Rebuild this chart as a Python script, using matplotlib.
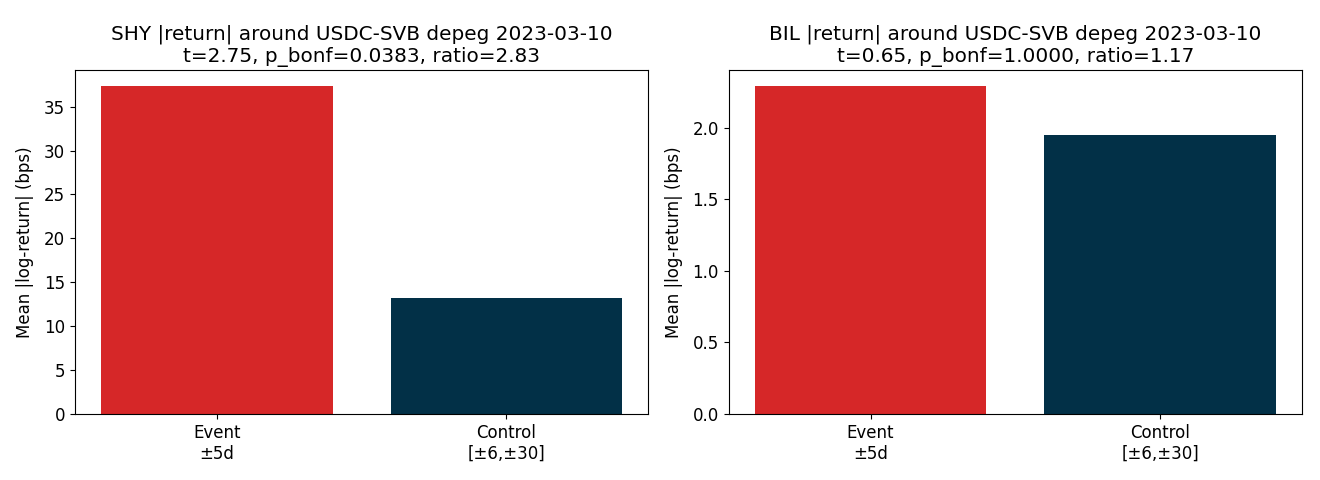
import matplotlib
matplotlib.use("Agg")
import matplotlib.pyplot as plt

plt.rcParams["font.size"] = 12

categories = ["Event\n±5d", "Control\n[±6,±30]"]
shy_values = [37.3, 13.18]
bil_values = [2.29, 1.95]
titles = [
    "SHY |return| around USDC-SVB depeg 2023-03-10\nt=2.75, p_bonf=0.0383, ratio=2.83",
    "BIL |return| around USDC-SVB depeg 2023-03-10\nt=0.65, p_bonf=1.0000, ratio=1.17",
]
colors = ["#d62728", "#023047"]

fig, axes = plt.subplots(1, 2, figsize=(13.2, 4.8), dpi=100)
fig.subplots_adjust(left=0.0568, right=0.9864, bottom=0.1375, top=0.854, wspace=0.14)

for ax, vals, title in zip(axes, [shy_values, bil_values], titles):
    ax.bar(range(len(categories)), vals, color=colors, width=0.8)
    ax.set_xticks(range(len(categories)))
    ax.set_xticklabels(categories)
    ax.set_ylabel("Mean |log-return| (bps)", labelpad=7)
    ax.set_title(title)

fig.savefig("out.png", dpi=100)
